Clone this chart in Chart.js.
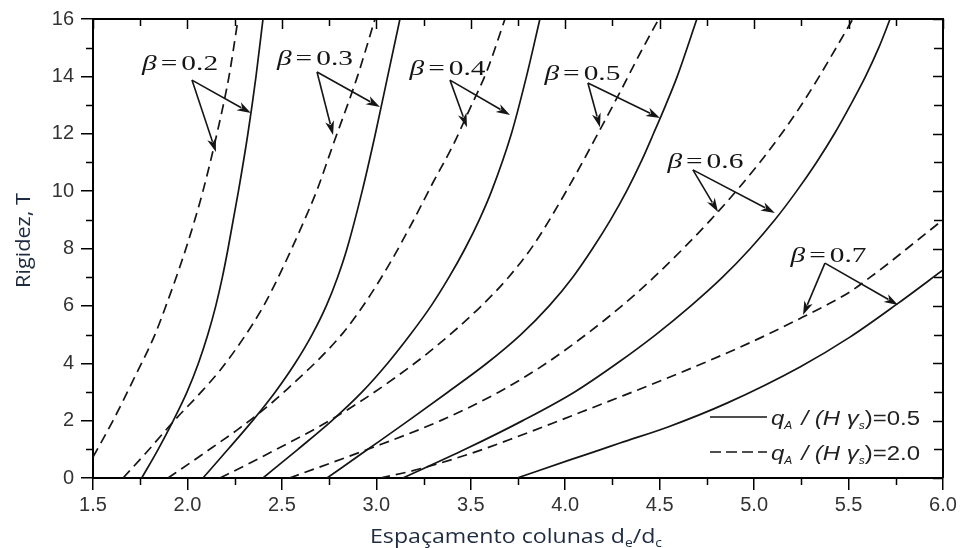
<!DOCTYPE html>
<html><head><meta charset="utf-8">
<script src="https://cdn.jsdelivr.net/npm/chart.js@4.4.1/dist/chart.umd.min.js"></script>
<style>html,body{margin:0;padding:0;background:#fff;}#wrap{width:962px;height:548px;}</style>
</head><body><div id="wrap"><canvas id="c" width="962" height="548"></canvas></div>
<script>
// ---- axis ranges / ticks ----
const xRange = [1.5, 6.0];
const yRange = [0, 16];
const xMajorStep = 0.5, xMinorStep = 0.25;
const yMajorStep = 2, yMinorStep = 1;

// ---- curves: [x, y] (solid q_A/(H γs)=0.5, dashed q_A/(H γs)=2.0) ----
const beta02_q05 = [[1.758,0],[1.845,1],[1.925,2],[1.998,3],[2.058,4],[2.108,5],[2.15,6],[2.185,7],[2.215,8],[2.27,10],[2.32,12],[2.363,14],[2.40,16]];
const beta02_q20 = [[1.5,0.73],[1.606,2.0],[1.712,3.4],[1.828,5.0],[1.886,6.0],[1.992,8.0],[2.082,10.0],[2.156,12.0],[2.22,14.0],[2.268,16.0]];
const beta03_q05 = [[2.082,0],[2.215,1],[2.345,2],[2.465,3],[2.57,4],[2.66,5],[2.735,6],[2.795,7],[2.845,8],[2.925,10],[2.995,12],[3.06,14],[3.125,16]];
const beta03_q20 = [[1.659,0],[1.78,0.87],[1.93,2.0],[2.066,2.95],[2.172,3.75],[2.294,4.85],[2.40,5.96],[2.479,6.97],[2.596,8.64],[2.686,10.04],[2.77,11.6],[2.9,14.0],[2.993,16.0]];
const beta04_q05 = [[2.40,0],[2.585,1],[2.765,2],[2.925,3],[3.06,4],[3.18,5],[3.29,6],[3.385,7],[3.47,8],[3.545,9],[3.61,10],[3.715,12],[3.795,14],[3.866,16]];
const beta04_q20 = [[1.897,0],[2.013,0.52],[2.135,1.08],[2.262,1.67],[2.368,2.2],[2.50,2.93],[2.823,5.05],[2.95,6.2],[3.072,7.49],[3.194,8.95],[3.30,10.3],[3.406,11.6],[3.49,12.8],[3.586,14.2],[3.681,16.0]];
const beta05_q05 = [[2.739,0],[2.955,1],[3.17,2],[3.38,3],[3.585,4],[3.765,5],[3.915,6],[4.04,7],[4.145,8],[4.24,9],[4.325,10],[4.40,11],[4.467,12],[4.532,13],[4.593,14],[4.697,16]];
const beta05_q20 = [[2.172,0],[2.3,0.42],[2.5,1.1],[2.7,1.8],[2.9,2.6],[3.1,3.5],[3.3,4.5],[3.55,5.96],[3.70,7.0],[3.83,8.1],[4.01,10.05],[4.185,12.15],[4.29,13.45],[4.4,14.85],[4.495,16.0]];
const beta06_q05 = [[3.141,0],[3.47,1],[3.775,2],[4.05,3],[4.275,4],[4.48,5],[4.665,6],[4.833,7],[4.98,8],[5.11,9],[5.225,10],[5.33,11],[5.425,12],[5.51,13],[5.59,14],[5.66,15],[5.72,16]];
const beta06_q20 = [[2.54,0],[2.955,1],[3.34,2],[3.65,3],[3.90,4],[4.11,5],[4.30,6],[4.47,7],[4.625,8],[4.77,9],[4.905,10],[5.03,11],[5.145,12],[5.25,13],[5.345,14],[5.523,16]];
const beta07_q05 = [[3.745,0],[4.025,0.63],[4.184,0.98],[4.29,1.22],[4.544,1.78],[4.856,2.61],[5.243,3.87],[5.507,4.91],[5.756,6.06],[6.0,7.25]];
const beta07_q20 = [[3.02,0],[3.16,0.2],[3.275,0.4],[3.475,0.8],[3.565,1.0],[3.73,1.4],[3.93,1.9],[4.085,2.3],[4.28,2.8],[4.51,3.4],[4.73,4.0],[4.905,4.5],[5.07,5.0],[5.255,5.6],[5.375,6.0],[5.51,6.5],[5.615,7.0],[5.715,7.5],[5.81,8.0],[5.905,8.5],[6.0,9.0]];

// ---- annotations (data units) ----
const betaNames = ['0.2','0.3','0.4','0.5','0.6','0.7'];
const betaLabelAt = [[1.961,14.22],[2.675,14.40],[3.377,14.05],[4.091,13.87],[4.742,10.80],[5.394,7.53]];
const betaArrowFrom = [[2.024,13.87],[2.686,14.15],[3.39,13.87],[4.12,13.77],[4.676,10.74],[5.375,7.49]];
const betaArrowSolid = [[2.336,12.72],[3.019,12.93],[3.708,12.65],[4.502,12.55],[5.11,9.24],[5.762,6.03]];
const betaArrowDashed = [[2.151,11.36],[2.771,11.96],[3.48,12.23],[4.184,12.23],[4.809,9.27],[5.259,5.68]];

const legendLabels = ['0.5','2.0'];
const xTitle = ['Espaçamento colunas d','e','/d','c'];
const yTitle = 'Rigidez, T';

const INK = '#151515';
const solidSets = [beta02_q05,beta03_q05,beta04_q05,beta05_q05,beta06_q05,beta07_q05];
const dashSets  = [beta02_q20,beta03_q20,beta04_q20,beta05_q20,beta06_q20,beta07_q20];
const mk = (arr, dashed) => ({
  data: arr.map(([x,y]) => ({x, y})),
  borderColor: INK, borderWidth: 1.7, borderDash: dashed ? [10,6] : [],
  pointRadius: 0, fill: false, cubicInterpolationMode: 'monotone', tension: 0.4
});
const datasets = [];
solidSets.forEach(s => datasets.push(mk(s,false)));
dashSets.forEach(s => datasets.push(mk(s,true)));

function drawRuns(ctx, runs, x, y, opts){
  let w = 0; const ws = [];
  for (const r of runs){ ctx.font = r.f; const m = ctx.measureText(r.t).width; ws.push(m); w += m + (r.gap||0); }
  const sx = opts.width ? opts.width / w : 1;
  ctx.save();
  ctx.translate(x, y);
  if (opts.rotate) ctx.rotate(opts.rotate);
  ctx.scale(sx, 1);
  let cx = opts.align === 'center' ? -w/2 : 0;
  ctx.fillStyle = opts.color || INK; ctx.textBaseline = 'alphabetic'; ctx.textAlign = 'left';
  runs.forEach((r,i) => { ctx.font = r.f; ctx.fillText(r.t, cx, r.dy||0); cx += ws[i] + (r.gap||0); });
  ctx.restore();
}

function arrow(ctx, x0, y0, x1, y1){
  const ang = Math.atan2(y1-y0, x1-x0);
  const L = 14, H = 4.5;
  const bx = x1 - L*Math.cos(ang), by = y1 - L*Math.sin(ang);
  ctx.beginPath(); ctx.moveTo(x0,y0); ctx.lineTo(bx + 3*Math.cos(ang), by + 3*Math.sin(ang)); ctx.stroke();
  ctx.beginPath();
  ctx.moveTo(x1,y1);
  ctx.lineTo(bx - H*Math.sin(ang), by + H*Math.cos(ang));
  ctx.lineTo(bx + 4*Math.cos(ang), by + 4*Math.sin(ang));
  ctx.lineTo(bx + H*Math.sin(ang), by - H*Math.cos(ang));
  ctx.closePath(); ctx.fill();
}

const decor = {
  id: 'decor',
  afterDraw(chart){
    const ctx = chart.ctx, xs = chart.scales.x, ys = chart.scales.y;
    const {left, right, top, bottom} = chart.chartArea;
    const px = v => xs.getPixelForValue(v), py = v => ys.getPixelForValue(v);
    ctx.save();
    ctx.strokeStyle = '#000'; ctx.fillStyle = '#000';
    ctx.lineWidth = 2;
    ctx.beginPath(); ctx.moveTo(left, top); ctx.lineTo(right, top); ctx.lineTo(right, bottom); ctx.stroke();
    ctx.lineWidth = 1.5;
    for (let v = xRange[0]; v <= xRange[1] + 1e-9; v += xMinorStep){
      const isMajor = Math.abs((v - xRange[0]) / xMajorStep - Math.round((v - xRange[0]) / xMajorStep)) < 1e-6;
      const x = Math.round(px(v)) + 0.5;
      ctx.beginPath();
      if (!isMajor){ ctx.moveTo(x, bottom); ctx.lineTo(x, bottom + 7); }
      ctx.moveTo(x, top); ctx.lineTo(x, top + (isMajor ? 10 : 7));
      ctx.stroke();
    }
    for (let v = yRange[0]; v <= yRange[1] + 1e-9; v += yMinorStep){
      const isMajor = (v % yMajorStep) === 0;
      const y = Math.round(py(v)) + 0.5;
      ctx.beginPath();
      if (!isMajor){ ctx.moveTo(left, y); ctx.lineTo(left - 7, y); }
      ctx.moveTo(right, y); ctx.lineTo(right - (isMajor ? 10 : 9), y);
      ctx.stroke();
    }
    ctx.strokeStyle = INK; ctx.fillStyle = INK; ctx.lineWidth = 1.6;
    betaNames.forEach((b, i) => {
      const [lx, ly] = betaLabelAt[i];
      drawRuns(ctx, [
        {t:'β', f:'italic 22px "Liberation Serif"', gap:3},
        {t:'=', f:'22px "Liberation Serif"', gap:3},
        {t:b, f:'22px "Liberation Serif"'}
      ], px(lx), py(ly), {align:'center', width:76});
      const [ox, oy] = betaArrowFrom[i];
      const [sx, sy] = betaArrowSolid[i];
      const [dx, dy] = betaArrowDashed[i];
      arrow(ctx, px(ox), py(oy), px(sx), py(sy));
      arrow(ctx, px(ox), py(oy), px(dx), py(dy));
    });
    const lgX0 = right - 233, lgX1 = right - 176, lgT = right - 172;
    const rows = [bottom - 61, bottom - 26];
    legendLabels.forEach((lab, i) => {
      const ly = rows[i];
      ctx.lineWidth = 1.7; ctx.strokeStyle = INK;
      ctx.setLineDash(i === 0 ? [] : [11,5]);
      ctx.beginPath(); ctx.moveTo(lgX0, ly); ctx.lineTo(lgX1, ly); ctx.stroke();
      ctx.setLineDash([]);
      drawRuns(ctx, [
        {t:'q', f:'italic 20px "Liberation Sans"'},
        {t:'A', f:'italic 10px "Liberation Sans"', dy:4, gap:2},
        {t:' / (H ', f:'italic 20px "Liberation Sans"'},
        {t:'γ', f:'italic 20px "Liberation Sans"'},
        {t:'s', f:'italic 10px "Liberation Sans"', dy:4},
        {t:')=' + lab, f:'20px "Liberation Sans"'}
      ], lgT, ly + 8, {align:'left', width:149, color:'#222'});
    });
    const titleCol = '#1e2b40';
    drawRuns(ctx, [
      {t:xTitle[0], f:'20px "Open Sans"'},
      {t:xTitle[1], f:'12px "Open Sans"', dy:4},
      {t:xTitle[2], f:'20px "Open Sans"'},
      {t:xTitle[3], f:'12px "Open Sans"', dy:4}
    ], (left + right)/2 - 2, 543, {align:'center', width:292, color:titleCol});
    drawRuns(ctx, [{t:yTitle, f:'20px "Open Sans"'}], 30, (top + bottom)/2 - 8, {align:'center', width:95, rotate:-Math.PI/2, color:titleCol});
    ctx.restore();
  }
};

new Chart(document.getElementById('c'), {
  type: 'line',
  data: { datasets },
  plugins: [decor],
  options: {
    responsive: false, animation: false, events: [],
    layout: { padding: { top: 19, right: 19, left: 0, bottom: 0 } },
    plugins: { legend: { display: false }, tooltip: { enabled: false } },
    scales: {
      x: {
        type: 'linear', min: xRange[0], max: xRange[1],
        ticks: { stepSize: xMajorStep, callback: v => v.toFixed(1), font: { family: 'Liberation Sans', size: 20 }, color: '#333', padding: 3, maxRotation: 0, autoSkip: false },
        grid: { drawOnChartArea: false, drawTicks: true, tickLength: 12, color: '#000', lineWidth: 1.5 },
        border: { display: true, color: '#000', width: 2 },
        afterFit(s){ s.height = 70; }
      },
      y: {
        type: 'linear', min: yRange[0], max: yRange[1],
        ticks: { stepSize: yMajorStep, font: { family: 'Liberation Sans', size: 20 }, color: '#333', padding: 7, autoSkip: false },
        grid: { drawOnChartArea: false, drawTicks: true, tickLength: 12, color: '#000', lineWidth: 1.5 },
        border: { display: true, color: '#000', width: 2 },
        afterFit(s){ s.width = 93; }
      }
    }
  }
});
</script></body></html>
